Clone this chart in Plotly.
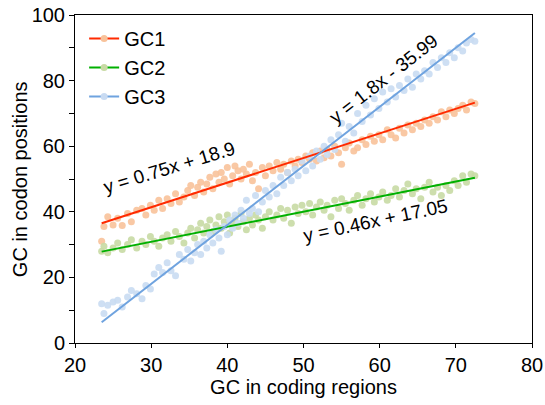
import plotly.graph_objects as go

gc_coding = [23.5, 23.8, 24.3, 25.0, 25.6, 26.2, 26.9, 27.4, 28.1, 28.8, 29.3, 29.9, 30.4, 31.0, 31.5, 32.1, 32.6, 33.2, 33.7, 34.3,
             34.8, 35.2, 35.7, 36.1, 36.5, 36.9, 37.3, 37.7, 38.1, 38.5, 38.9, 39.2, 39.6, 40.0, 40.3, 40.7, 41.0, 41.4, 41.8, 42.1,
             42.5, 42.9, 43.3, 43.7, 44.1, 44.6, 45.0, 45.5, 46.0, 46.5, 47.0, 47.4, 47.9, 48.4, 48.9, 49.3, 49.8, 50.3, 50.8, 51.2,
             51.7, 52.2, 52.7, 53.1, 53.6, 54.1, 54.6, 55.0, 55.5, 56.0, 56.6, 57.1, 57.7, 58.2, 58.8, 59.3, 59.9, 60.4, 61.0, 61.5,
             62.1, 62.6, 63.2, 63.7, 64.3, 64.8, 65.4, 65.9, 66.5, 67.0, 67.6, 68.1, 68.7, 69.2, 69.8, 70.3, 70.9, 71.4, 72.0, 72.5]

gc1 = [31.0, 35.5, 38.5, 36.0, 38.0, 35.8, 39.5, 37.0, 40.5, 41.0, 39.0, 42.0, 40.5, 43.5, 41.0, 44.0, 42.5, 45.5, 43.0, 44.5,
       46.5, 48.0, 45.0, 47.5, 49.0, 46.0, 48.5, 50.5, 47.0, 51.5, 49.0, 52.0, 50.0, 53.5, 48.5, 51.0, 54.0, 52.5, 50.0, 53.0,
       51.5, 54.5, 49.5, 52.0, 47.0, 53.5, 51.0, 54.0, 52.5, 55.0, 53.0, 54.5, 52.0, 55.5, 54.0, 56.0, 55.0, 57.0, 56.0, 58.0,
       55.5, 58.5, 56.5, 59.0, 57.0, 60.0, 58.0, 54.5, 59.5, 61.0, 58.5, 59.5, 62.0, 60.5, 63.0, 61.5, 63.5, 62.0, 65.0, 63.5,
       62.5, 65.5, 64.0, 66.5, 65.0, 67.0, 66.0, 68.0, 67.0, 69.0, 68.0, 70.5, 69.0, 71.0, 70.0, 71.5, 72.5, 71.0, 73.5, 73.0]

gc2 = [28.0, 29.5, 27.5, 29.0, 30.5, 28.5, 30.0, 31.5, 29.0, 31.0, 30.0, 32.5, 31.0, 29.5, 32.0, 33.0, 31.0, 34.0, 32.5, 30.5,
       33.5, 35.0, 32.0, 34.5, 36.5, 33.5, 35.5, 37.5, 34.0, 36.0, 38.5, 35.0, 37.0, 39.0, 33.5, 36.5, 38.0, 35.5, 39.5, 37.0,
       34.5, 38.0, 36.0, 39.0, 37.5, 35.0, 38.5, 40.0, 37.5, 39.0, 41.0, 38.0, 40.5, 36.5, 41.5, 39.5, 42.0, 40.0, 42.5, 39.0,
       41.5, 43.0, 40.5, 42.0, 38.5, 43.5, 41.0, 44.0, 42.5, 40.5, 43.5, 45.0, 42.0, 44.0, 45.5, 43.0, 44.5, 46.0, 43.5, 45.0,
       47.0, 44.5, 46.5, 48.5, 45.5, 47.0, 44.0, 47.5, 49.0, 46.0, 47.5, 45.0, 48.0, 46.5, 49.5, 48.0, 51.0, 49.0, 51.5, 51.0]

gc3 = [12.0, 9.0, 11.5, 12.5, 13.0, 11.0, 14.0, 16.0, 15.0, 13.5, 17.5, 16.5, 21.0, 23.0, 21.5, 24.5, 22.0, 20.5, 27.0, 25.5,
       28.5, 25.0, 27.5, 30.0, 27.0, 31.0, 29.0, 33.0, 30.5, 34.5, 32.0, 28.0, 35.5, 33.0, 37.5, 35.0, 39.0, 36.5, 40.5, 38.0,
       43.5, 39.5, 41.0, 45.0, 40.0, 43.0, 46.5, 44.5, 48.0, 45.5, 50.5, 48.0, 52.0, 49.5, 53.0, 51.0, 55.5, 52.5, 57.0, 54.0,
       58.5, 56.0, 60.0, 57.5, 62.0, 59.0, 63.5, 67.0, 61.5, 66.0, 64.0, 70.0, 67.5, 72.5, 69.5, 74.5, 71.5, 76.5, 73.5, 77.5,
       75.0, 78.5, 77.0, 80.5, 78.0, 82.0, 80.5, 83.0, 82.0, 85.5, 84.0, 87.0, 85.5, 88.5, 87.0, 90.0, 89.0, 91.5, 92.5, 92.0]

series_names = ["GC1", "GC2", "GC3"]
slopes = [0.75, 0.46, 1.8]
intercepts = [18.9, 17.05, -35.99]
equation_labels = ["y = 0.75x + 18.9", "y = 0.46x + 17.05", "y = 1.8x - 35.99"]
x_title = "GC in coding regions"
y_title = "GC in codon positions"

marker_colors = ["#F8C29A", "#C8DAA4", "#C9DBF2"]
line_colors = ["#FF2A00", "#00B000", "#6FA3DF"]

FONT = "Liberation Sans, Arial, sans-serif"
fig = go.Figure()

x_min, x_max = min(gc_coding), max(gc_coding)
for name, ys, mc in zip(series_names, [gc1, gc2, gc3], marker_colors):
    fig.add_trace(go.Scatter(x=gc_coding, y=ys, mode="markers", showlegend=False,
                             marker=dict(size=7, color=mc, opacity=0.9), name=name))

for name, a, b, lc in zip(series_names, slopes, intercepts, line_colors):
    fig.add_trace(go.Scatter(x=[x_min, x_max], y=[a * x_min + b, a * x_max + b], mode="lines",
                             line=dict(color=lc, width=2), showlegend=False, hoverinfo="skip"))

for name, lc, mc in zip(series_names, line_colors, marker_colors):
    fig.add_trace(go.Scatter(x=[None], y=[None], mode="lines+markers", name=name,
                             line=dict(color=lc, width=2), marker=dict(size=7, color=mc)))

# equation labels
ann_pos = [(32.4, 53.6, -17), (59.5, 37.4, -12), (60.6, 80.5, -38)]
for text, (ax, ay, ang) in zip(equation_labels, ann_pos):
    fig.add_annotation(x=ax, y=ay, text=text, showarrow=False, textangle=ang,
                       font=dict(family=FONT, size=19, color="black"))

# y axis title as a rotated annotation (placed like the reference)
fig.add_annotation(xref="paper", yref="paper", x=-0.12, y=0.5, text=y_title, textangle=-90,
                   showarrow=False, xanchor="center", yanchor="middle",
                   font=dict(family=FONT, size=20, color="black"))

fig.update_layout(
    width=545, height=405,
    margin=dict(l=75, r=13, t=15, b=62),
    plot_bgcolor="white", paper_bgcolor="white",
    font=dict(family=FONT, size=20, color="black"),
    legend=dict(x=0.02, y=0.988, xanchor="left", yanchor="top", bgcolor="rgba(0,0,0,0)",
                font=dict(family=FONT, size=20), itemwidth=30, tracegroupgap=0),
    showlegend=True,
)
fig.update_xaxes(range=[20, 80], dtick=10, tick0=20, showgrid=False, zeroline=False,
                 showline=True, linecolor="black", linewidth=1, mirror=True,
                 ticks="outside", ticklen=4, tickcolor="black", automargin=False,
                 tickfont=dict(size=20),
                 title=dict(text=x_title, font=dict(size=20), standoff=2))
fig.update_yaxes(range=[0, 100], dtick=20, tick0=0, showgrid=False, zeroline=False,
                 showline=True, linecolor="black", linewidth=1, mirror=True,
                 ticks="outside", ticklen=5, tickcolor="black", automargin=False,
                 tickfont=dict(size=20),
                 minor=dict(ticks="outside", dtick=10, ticklen=5, tickcolor="black"))

fig.write_html("out.html", config={"displayModeBar": False})

# remove the browser's default page margin so the figure sits at the window origin
with open("out.html", "r", encoding="utf-8") as f:
    html = f.read()
html = html.replace("<head>", "<head><style>html,body{margin:0;padding:0;overflow:hidden;}</style>", 1)
with open("out.html", "w", encoding="utf-8") as f:
    f.write(html)
